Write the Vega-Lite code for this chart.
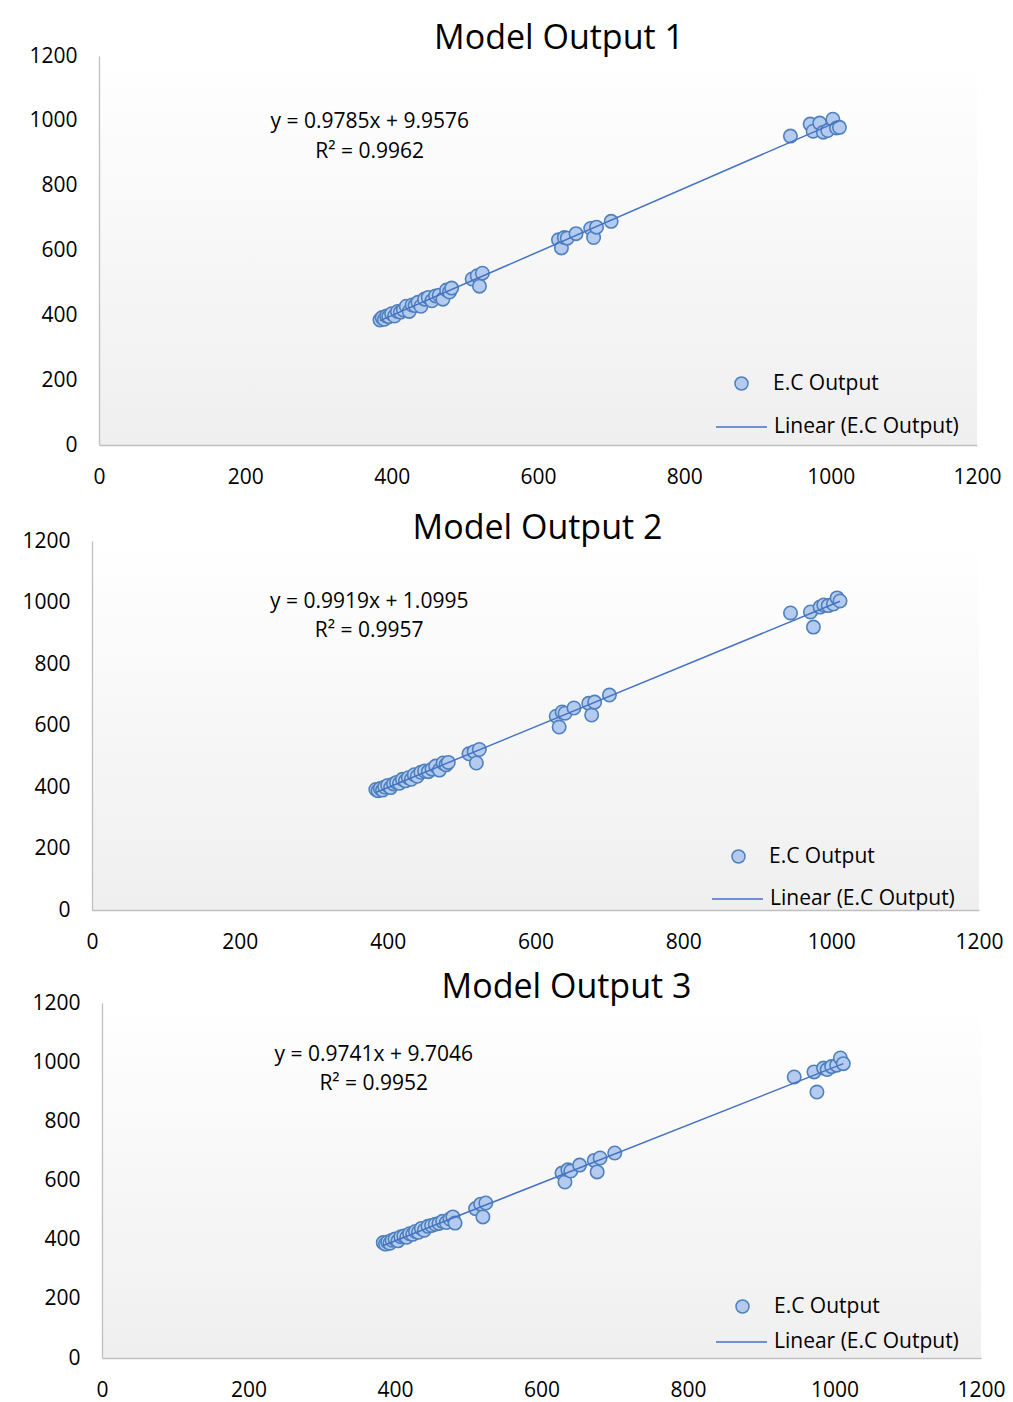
{
  "$schema": "https://vega.github.io/schema/vega-lite/v6.json",
  "background": "white",
  "padding": {"left": 0, "top": 22, "right": 0, "bottom": 0},
  "spacing": 19,
  "columns": 1,
  "resolve": {"scale": {"stroke": "independent", "fill": "independent"}, "legend": {"stroke": "independent", "fill": "independent"}},
  "datasets": {
    "pts": [
      {"x": 384, "m1": 386, "m2": 392, "m3": 390},
      {"x": 387, "m1": 393, "m2": 388, "m3": 385},
      {"x": 390, "m1": 388, "m2": 395, "m3": 392},
      {"x": 393, "m1": 398, "m2": 390, "m3": 388},
      {"x": 396, "m1": 396, "m2": 400, "m3": 398},
      {"x": 400, "m1": 405, "m2": 405, "m3": 402},
      {"x": 404, "m1": 398, "m2": 398, "m3": 396},
      {"x": 408, "m1": 412, "m2": 410, "m3": 410},
      {"x": 412, "m1": 410, "m2": 415, "m3": 412},
      {"x": 416, "m1": 417, "m2": 412, "m3": 408},
      {"x": 420, "m1": 428, "m2": 425, "m3": 420},
      {"x": 424, "m1": 412, "m2": 420, "m3": 418},
      {"x": 428, "m1": 432, "m2": 430, "m3": 428},
      {"x": 432, "m1": 430, "m2": 425, "m3": 425},
      {"x": 436, "m1": 440, "m2": 440, "m3": 438},
      {"x": 440, "m1": 428, "m2": 435, "m3": 432},
      {"x": 445, "m1": 450, "m2": 448, "m3": 445},
      {"x": 450, "m1": 455, "m2": 452, "m3": 448},
      {"x": 455, "m1": 445, "m2": 450, "m3": 452},
      {"x": 460, "m1": 460, "m2": 458, "m3": 455},
      {"x": 465, "m1": 462, "m2": 468, "m3": 462},
      {"x": 470, "m1": 450, "m2": 455, "m3": 458},
      {"x": 475, "m1": 478, "m2": 478, "m3": 470},
      {"x": 479, "m1": 472, "m2": 472, "m3": 477},
      {"x": 482, "m1": 484, "m2": 480, "m3": 456},
      {"x": 510, "m1": 512, "m2": 508, "m3": 505},
      {"x": 517, "m1": 522, "m2": 515, "m3": 520},
      {"x": 520, "m1": 490, "m2": 478, "m3": 477},
      {"x": 524, "m1": 530, "m2": 522, "m3": 524},
      {"x": 628, "m1": 633, "m2": 630, "m3": 625},
      {"x": 632, "m1": 608, "m2": 595, "m3": 595},
      {"x": 636, "m1": 640, "m2": 644, "m3": 636},
      {"x": 640, "m1": 638, "m2": 640, "m3": 632},
      {"x": 652, "m1": 652, "m2": 657, "m3": 652},
      {"x": 672, "m1": 668, "m2": 672, "m3": 668},
      {"x": 676, "m1": 640, "m2": 634, "m3": 629},
      {"x": 680, "m1": 672, "m2": 676, "m3": 676},
      {"x": 700, "m1": 690, "m2": 699, "m3": 693},
      {"x": 945, "m1": 953, "m2": 966, "m3": 950},
      {"x": 972, "m1": 990, "m2": 969, "m3": 967},
      {"x": 976, "m1": 968, "m2": 920, "m3": 899},
      {"x": 985, "m1": 993, "m2": 985, "m3": 980},
      {"x": 990, "m1": 965, "m2": 992, "m3": 975},
      {"x": 996, "m1": 970, "m2": 990, "m3": 985},
      {"x": 1003, "m1": 1005, "m2": 995, "m3": 990},
      {"x": 1008, "m1": 978, "m2": 1015, "m3": 1014},
      {"x": 1012, "m1": 980, "m2": 1005, "m3": 995}
    ]
  },
  "config": {
    "font": "Open Sans",
    "view": {"stroke": null},
    "axis": {"grid": false, "ticks": false, "domainColor": "#bfbfbf", "domainWidth": 1.3, "labelFontSize": 21, "labelColor": "#000000", "labelFont": "Open Sans", "title": null, "format": "d", "labelFlush": false},
    "axisX": {"labelPadding": 21},
    "axisY": {"labelPadding": 22, "minExtent": 72},
    "title": {"fontSize": 34, "fontWeight": "normal", "color": "#000000", "font": "Open Sans"},
    "legend": {"title": null, "orient": "none", "labelFontSize": 21, "labelFont": "Open Sans", "labelColor": "#000000", "labelLimit": 0}
  },
  "concat": [
    {
      "spacing": 0,
      "hconcat": [
        {"width": 27, "height": 1, "data": {"values": []}, "mark": "point"},
        {
          "width": 878, "height": 389,
          "title": {"text": "Model Output 1", "dx": 21, "offset": -11},
          "view": {"fill": {"gradient": "linear", "x1": 0, "y1": 0, "x2": 0, "y2": 1, "stops": [{"offset": 0, "color": "#ffffff"}, {"offset": 1, "color": "#efefef"}]}},
          "layer": [
            {
              "data": {"name": "pts"},
              "mark": {"type": "point", "filled": true, "size": 180, "stroke": "#4f81bd", "strokeWidth": 1.6, "opacity": 1, "fillOpacity": 1},
              "encoding": {
                "x": {"field": "x", "type": "quantitative", "scale": {"domain": [0, 1200]}, "axis": {"values": [0, 200, 400, 600, 800, 1000, 1200], "minExtent": 48}},
                "y": {"field": "m1", "type": "quantitative", "scale": {"domain": [0, 1200]}, "axis": {"values": [0, 200, 400, 600, 800, 1000, 1200]}},
                "fill": {"datum": "E.C Output", "scale": {"range": ["#b4cbef"]},
                  "legend": {"legendX": 731, "legendY": 317, "symbolType": "circle", "symbolSize": 170, "symbolFillColor": "#b4cbef", "symbolStrokeColor": "#4f81bd", "symbolStrokeWidth": 1.5, "symbolOpacity": 1, "labelOffset": 21}}
              }
            },
            {
              "data": {"name": "pts"},
              "transform": [{"regression": "m1", "on": "x"}],
              "mark": {"type": "line", "strokeWidth": 1.5},
              "encoding": {
                "x": {"field": "x", "type": "quantitative"},
                "y": {"field": "m1", "type": "quantitative"},
                "stroke": {"datum": "Linear (E.C Output)", "scale": {"range": ["#4472c4"]},
                  "legend": {"legendX": 715, "legendY": 344.5, "symbolSize": 2600, "symbolType": "stroke", "symbolStrokeWidth": 1.5, "labelOffset": 6}}
              }
            },
            {
              "data": {"values": [{}]},
              "mark": {"type": "text", "text": ["y = 0.9785x + 9.9576", "R² = 0.9962"], "fontSize": 21, "lineHeight": 30, "align": "center", "baseline": "middle", "color": "#000000"},
              "encoding": {"x": {"datum": 370}, "y": {"datum": 996}}
            }
          ]
        }
      ]
    },
    {
      "spacing": 0,
      "hconcat": [
        {"width": 20, "height": 1, "data": {"values": []}, "mark": "point"},
        {
          "width": 887, "height": 369,
          "title": {"text": "Model Output 2", "dx": 2, "offset": -16},
          "view": {"fill": {"gradient": "linear", "x1": 0, "y1": 0, "x2": 0, "y2": 1, "stops": [{"offset": 0, "color": "#ffffff"}, {"offset": 1, "color": "#efefef"}]}},
          "layer": [
            {
              "data": {"name": "pts"},
              "mark": {"type": "point", "filled": true, "size": 180, "stroke": "#4f81bd", "strokeWidth": 1.6, "opacity": 1, "fillOpacity": 1},
              "encoding": {
                "x": {"field": "x", "type": "quantitative", "scale": {"domain": [0, 1200]}, "axis": {"values": [0, 200, 400, 600, 800, 1000, 1200]}},
                "y": {"field": "m2", "type": "quantitative", "scale": {"domain": [0, 1200]}, "axis": {"values": [0, 200, 400, 600, 800, 1000, 1200]}},
                "fill": {"datum": "E.C Output", "scale": {"range": ["#b4cbef"]},
                  "legend": {"legendX": 728, "legendY": 305, "symbolType": "circle", "symbolSize": 170, "symbolFillColor": "#b4cbef", "symbolStrokeColor": "#4f81bd", "symbolStrokeWidth": 1.5, "symbolOpacity": 1, "labelOffset": 20}}
              }
            },
            {
              "data": {"name": "pts"},
              "transform": [{"regression": "m2", "on": "x"}],
              "mark": {"type": "line", "strokeWidth": 1.5},
              "encoding": {
                "x": {"field": "x", "type": "quantitative"},
                "y": {"field": "m2", "type": "quantitative"},
                "stroke": {"datum": "Linear (E.C Output)", "scale": {"range": ["#4472c4"]},
                  "legend": {"legendX": 711, "legendY": 331.5, "symbolSize": 2600, "symbolType": "stroke", "symbolStrokeWidth": 1.5, "labelOffset": 6}}
              }
            },
            {
              "data": {"values": [{}]},
              "mark": {"type": "text", "text": ["y = 0.9919x + 1.0995", "R² = 0.9957"], "fontSize": 21, "lineHeight": 29, "align": "center", "baseline": "middle", "color": "#000000"},
              "encoding": {"x": {"datum": 375}, "y": {"datum": 1002}}
            }
          ]
        }
      ]
    },
    {
      "spacing": 0,
      "hconcat": [
        {"width": 30, "height": 1, "data": {"values": []}, "mark": "point"},
        {
          "width": 879, "height": 355,
          "title": {"text": "Model Output 3", "dx": 25, "offset": -13},
          "view": {"fill": {"gradient": "linear", "x1": 0, "y1": 0, "x2": 0, "y2": 1, "stops": [{"offset": 0, "color": "#ffffff"}, {"offset": 1, "color": "#efefef"}]}},
          "layer": [
            {
              "data": {"name": "pts"},
              "mark": {"type": "point", "filled": true, "size": 180, "stroke": "#4f81bd", "strokeWidth": 1.6, "opacity": 1, "fillOpacity": 1},
              "encoding": {
                "x": {"field": "x", "type": "quantitative", "scale": {"domain": [0, 1200]}, "axis": {"values": [0, 200, 400, 600, 800, 1000, 1200]}},
                "y": {"field": "m3", "type": "quantitative", "scale": {"domain": [0, 1200]}, "axis": {"values": [0, 200, 400, 600, 800, 1000, 1200]}},
                "fill": {"datum": "E.C Output", "scale": {"range": ["#b4cbef"]},
                  "legend": {"legendX": 732, "legendY": 293, "symbolType": "circle", "symbolSize": 170, "symbolFillColor": "#b4cbef", "symbolStrokeColor": "#4f81bd", "symbolStrokeWidth": 1.5, "symbolOpacity": 1, "labelOffset": 21}}
              }
            },
            {
              "data": {"name": "pts"},
              "transform": [{"regression": "m3", "on": "x"}],
              "mark": {"type": "line", "strokeWidth": 1.5},
              "encoding": {
                "x": {"field": "x", "type": "quantitative"},
                "y": {"field": "m3", "type": "quantitative"},
                "stroke": {"datum": "Linear (E.C Output)", "scale": {"range": ["#4472c4"]},
                  "legend": {"legendX": 715, "legendY": 312.5, "symbolSize": 2600, "symbolType": "stroke", "symbolStrokeWidth": 1.5, "labelOffset": 6}}
              }
            },
            {
              "data": {"values": [{}]},
              "mark": {"type": "text", "text": ["y = 0.9741x + 9.7046", "R² = 0.9952"], "fontSize": 21, "lineHeight": 29, "align": "center", "baseline": "middle", "color": "#000000"},
              "encoding": {"x": {"datum": 371}, "y": {"datum": 1024}}
            }
          ]
        }
      ]
    }
  ]
}
